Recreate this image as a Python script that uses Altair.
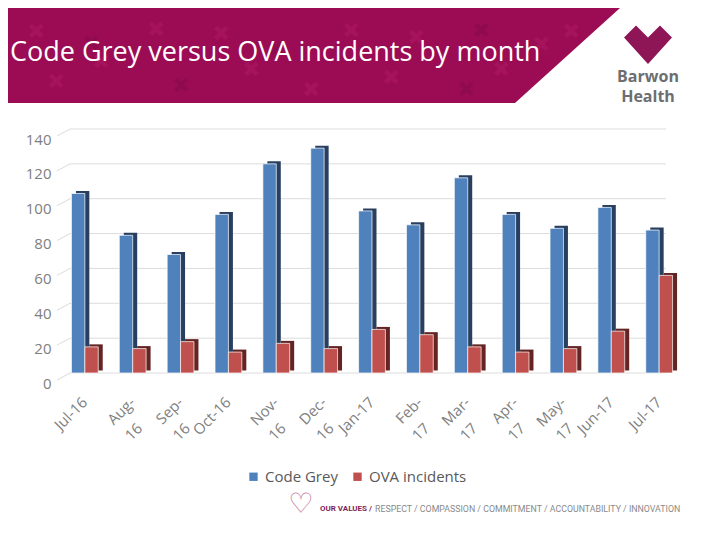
import altair as alt
import pandas as pd

months = ["Jul-16", "Aug-16", "Sep-16", "Oct-16", "Nov-16", "Dec-16", "Jan-17",
          "Feb-17", "Mar-17", "Apr-17", "May-17", "Jun-17", "Jul-17"]
code_grey = [103, 79, 68, 91, 120, 129, 93, 85, 112, 91, 83, 95, 82]
ova = [15, 14, 18, 12, 17, 14, 25, 22, 15, 12, 14, 24, 56]
series = ["Code Grey", "OVA incidents"]
y_ticks = [0, 20, 40, 60, 80, 100, 120, 140]
single_line = ["Jul-16", "Oct-16", "Jan-17", "Jun-17", "Jul-17"]

title_text = "Code Grey versus OVA incidents by month"
footer_bold = "OUR VALUES /"
footer_rest = "RESPECT / COMPASSION / COMMITMENT / ACCOUNTABILITY / INNOVATION"

rows = []
for m, a, b in zip(months, code_grey, ova):
    rows.append({"month": m, "series": series[0], "value": a})
    rows.append({"month": m, "series": series[1], "value": b})
df = pd.DataFrame(rows)
ticks_df = pd.DataFrame({"t": y_ticks})

lab_rows = []
for m in months:
    if m in single_line:
        lab_rows.append({"month": m, "l1": m, "l2": ""})
    else:
        a, b = m.split("-")
        lab_rows.append({"month": m, "l1": a + "-", "l2": b})
labels_df = pd.DataFrame(lab_rows)

W, H = 604, 244
BLUE, RED = "#4f81bd", "#c0504d"
BLUE_D, RED_D = "#283f60", "#632423"
GREY = "#808080"
CRIMSON = "#9c0c55"
HALF = 6.7
DX, DY = 4.5, -2.5

yscale = alt.Scale(domain=[0, 140])
xscale = alt.Scale(domain=months, paddingInner=0.44, paddingOuter=0.03)
yaxis = alt.Axis(values=y_ticks, grid=False, domain=False, ticks=False, labelPadding=19,
                 labelOffset=10, labelFont="Open Sans", labelFontSize=15, labelColor=GREY,
                 title=None)
xenc = alt.X("month:N", sort=months, scale=xscale, axis=None)
yenc = alt.Y("value:Q", scale=yscale, axis=yaxis)

grid = alt.Chart(ticks_df).mark_rule(color="#dcdcdc", strokeWidth=1).encode(
    y=alt.Y("t:Q", scale=yscale, axis=yaxis),
    x=alt.value(0), x2=alt.value(596),
)
stubs = alt.Chart(ticks_df).mark_rule(color="#dcdcdc", strokeWidth=1, yOffset=7).encode(
    y=alt.Y("t:Q", scale=yscale, axis=yaxis),
    y2="t:Q",
    x=alt.value(-13), x2=alt.value(0),
)

def bars(name, offset, dark_color):
    base = alt.Chart(df).transform_filter(alt.datum.series == name)
    d = base.mark_bar(width=alt.RelativeBandSize(0.5), xOffset=offset + DX, yOffset=DY,
                      color=dark_color).encode(x=xenc, y=yenc)
    f = base.mark_bar(width=alt.RelativeBandSize(0.5), xOffset=offset,
                      stroke="white", strokeWidth=0.7).encode(
        x=xenc, y=yenc,
        color=alt.Color("series:N", scale=alt.Scale(domain=series, range=[BLUE, RED]),
                        legend=alt.Legend(title=None, orient="none", legendX=176, legendY=340,
                                          direction="horizontal", symbolType="square",
                                          symbolSize=70, symbolStrokeWidth=0,
                                          labelFont="Open Sans", labelFontSize=15,
                                          labelColor="#595959", columnPadding=12,
                                          labelOffset=4)),
    )
    return d, f

bd, bf = bars(series[0], -HALF, BLUE_D)
rd, rf = bars(series[1], HALF, RED_D)

lab1 = alt.Chart(labels_df).mark_text(
    angle=315, align="right", baseline="top", font="Open Sans", fontSize=15, color=GREY,
    xOffset=-5
).encode(x=xenc, y=alt.value(H + 22), text="l1:N")
lab2 = alt.Chart(labels_df).mark_text(
    angle=315, align="center", baseline="middle", font="Open Sans", fontSize=15, color=GREY,
    xOffset=1
).encode(x=xenc, y=alt.value(H + 22 + 37), text="l2:N")

chart_core = alt.layer(grid, stubs, bd, rd, bf, rf, lab1, lab2)

# decorations (plot origin sits at page x=70, y=129)
hdr = pd.DataFrame({"px": [-62, 445, 550], "py": [-121, -121, -121], "py2": [-26, -26, -121]})
header = alt.Chart(hdr).mark_area(color=CRIMSON, orient="vertical").encode(
    x=alt.X("px:Q", scale=None), y=alt.Y("py:Q", scale=None), y2="py2:Q")

cross_pos = pd.DataFrame({
    "px": [-35, 20, 85, 150, 205, 280, 345, 410, 470, -15, 110, 240, 320, 395, 30, 180, 430, 500],
    "py": [-98, -86, -100, -96, -80, -99, -92, -99, -85, -48, -44, -40, -52, -40, -68, -60, -60, -98],
    "c": ["l", "d", "l", "l", "d", "l", "l", "d", "l", "l", "d", "l", "l", "d", "l", "l", "l", "l"],
})
crosses = alt.Chart(cross_pos).mark_text(text="✚", angle=45, fontSize=22, opacity=0.2).encode(
    x=alt.X("px:Q", scale=None), y=alt.Y("py:Q", scale=None),
    color=alt.Color("c:N", scale=alt.Scale(domain=["l", "d"], range=["#d0307f", "#5e0633"]), legend=None))

title = alt.Chart(pd.DataFrame({"t": [title_text]})).mark_text(
    align="left", baseline="alphabetic", font="Open Sans", fontSize=27, color="white"
).encode(text="t:N", x=alt.value(-60), y=alt.value(-68))

heart_path = "M-1,-0.35 L-0.5,-0.85 L0,-0.35 L0.5,-0.85 L1,-0.35 L0,0.75 Z"
logo = alt.Chart(pd.DataFrame({"k": [0]})).mark_point(
    shape=heart_path, size=2300, filled=True, color="#8e1556", opacity=1
).encode(x=alt.value(578), y=alt.value(-83))
barwon = alt.Chart(pd.DataFrame({"t": ["Barwon", "Health"], "py": [-52, -32]})).mark_text(
    font="Open Sans", fontSize=16, fontWeight="bold", color="#6d6e71", align="center", baseline="middle"
).encode(text="t:N", x=alt.value(578), y=alt.Y("py:Q", scale=None))

footer1 = alt.Chart(pd.DataFrame({"t": [footer_bold]})).mark_text(
    align="right", baseline="middle", font="Roboto", fontSize=8, fontWeight="bold", color="#7d1f5a"
).encode(text="t:N", x=alt.value(302), y=alt.value(380))
footer2 = alt.Chart(pd.DataFrame({"t": [footer_rest]})).mark_text(
    align="left", baseline="middle", font="Roboto", fontSize=8.8, color="#8a8a8a"
).encode(text="t:N", x=alt.value(305), y=alt.value(380))
swirl = alt.Chart(pd.DataFrame({"t": ["♡"]})).mark_text(
    font="DejaVu Sans", fontSize=28, color="#c47a9a", baseline="middle", align="center"
).encode(text="t:N", x=alt.value(231), y=alt.value(376))

chart = alt.layer(
    header, crosses, title, logo, barwon, chart_core, footer1, footer2, swirl
).resolve_scale(x="independent", y="independent", color="independent").properties(
    width=W, height=H,
    padding={"left": 62, "top": 121, "right": 30, "bottom": 150},
    autosize=alt.AutoSizeParams(type="none"),
).configure_view(stroke=None)

chart.save("out.html", embed_options={"renderer": "svg", "actions": False})
